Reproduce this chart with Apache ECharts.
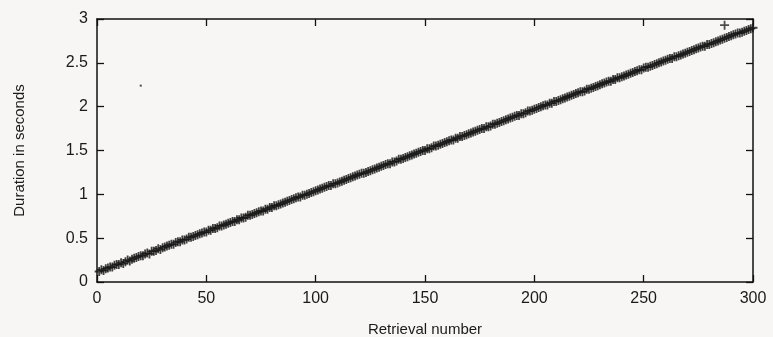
<!DOCTYPE html>
<html><head><meta charset="utf-8">
<script src="https://cdn.jsdelivr.net/npm/echarts@6/dist/echarts.min.js"></script>
<style>html,body{margin:0;padding:0;background:#f8f6f4}#c{width:773px;height:337px}</style>
</head><body><div id="c"></div>
<script>
// Retrieval numbers 1..300 and their durations (seconds)
const retrievalStart = 1;
const durations = [
0.12,0.14,0.13,0.15,0.16,0.17,0.17,0.19,0.20,0.20,
0.22,0.21,0.23,0.25,0.24,0.26,0.27,0.28,0.29,0.30,
0.30,0.32,0.33,0.32,0.35,0.35,0.36,0.38,0.37,0.39,
0.40,0.41,0.42,0.43,0.43,0.45,0.46,0.46,0.48,0.48,
0.49,0.51,0.51,0.52,0.53,0.54,0.55,0.56,0.57,0.57,
0.59,0.59,0.61,0.61,0.62,0.64,0.64,0.65,0.66,0.67,
0.68,0.69,0.69,0.71,0.71,0.73,0.73,0.74,0.76,0.76,
0.77,0.78,0.79,0.80,0.81,0.81,0.83,0.83,0.85,0.85,
0.87,0.87,0.88,0.89,0.90,0.91,0.92,0.93,0.94,0.95,
0.96,0.97,0.97,0.99,0.99,1.00,1.01,1.02,1.03,1.04,
1.05,1.06,1.07,1.08,1.09,1.10,1.10,1.12,1.12,1.13,
1.14,1.15,1.16,1.17,1.18,1.19,1.20,1.21,1.22,1.23,
1.24,1.24,1.25,1.26,1.27,1.28,1.29,1.30,1.31,1.32,
1.33,1.34,1.35,1.35,1.37,1.37,1.38,1.40,1.40,1.41,
1.42,1.43,1.44,1.45,1.46,1.47,1.48,1.49,1.50,1.50,
1.52,1.52,1.53,1.55,1.55,1.56,1.57,1.58,1.59,1.60,
1.61,1.62,1.62,1.64,1.64,1.66,1.66,1.67,1.68,1.69,
1.70,1.71,1.72,1.73,1.74,1.75,1.75,1.77,1.77,1.78,
1.80,1.80,1.81,1.82,1.83,1.84,1.85,1.86,1.87,1.88,
1.89,1.90,1.90,1.92,1.92,1.93,1.95,1.95,1.96,1.97,
1.98,1.99,2.00,2.01,2.02,2.02,2.04,2.04,2.06,2.06,
2.07,2.08,2.09,2.10,2.11,2.12,2.13,2.14,2.15,2.16,
2.17,2.17,2.18,2.20,2.20,2.21,2.22,2.23,2.24,2.25,
2.26,2.27,2.28,2.29,2.29,2.31,2.31,2.33,2.33,2.34,
2.35,2.36,2.37,2.38,2.39,2.40,2.41,2.42,2.42,2.44,
2.45,2.45,2.46,2.47,2.48,2.49,2.50,2.51,2.52,2.53,
2.54,2.55,2.55,2.57,2.57,2.58,2.59,2.60,2.61,2.62,
2.63,2.64,2.65,2.66,2.67,2.68,2.69,2.69,2.71,2.71,
2.72,2.73,2.74,2.75,2.76,2.77,2.78,2.79,2.80,2.81,
2.82,2.83,2.84,2.84,2.85,2.86,2.87,2.88,2.89,2.90
];
const outlierX = [287];
const outlierY = [2.93];
const strayX = [20];
const strayY = [2.24];
const xTicks = [0, 50, 100, 150, 200, 250, 300];
const yTicks = [0, 0.5, 1, 1.5, 2, 2.5, 3];

const mainData = durations.map((v, i) => [retrievalStart + i, v]);
const outData = outlierX.map((x, i) => [x, outlierY[i]]);
const strayData = strayX.map((x, i) => [x, strayY[i]]);

const plus = 'path://M4,0h2v4h4v2h-4v4h-2v-4h-4v-2h4z';
const font = 'Liberation Sans, Arial, sans-serif';
const axisLine = {show: true, onZero: false, lineStyle: {color: '#111', width: 1.5}};
const tick = {show: true, inside: true, length: 7, lineStyle: {color: '#111', width: 1.3}};

const chart = echarts.init(document.getElementById('c'), null, {renderer: 'canvas'});
chart.setOption({
  backgroundColor: '#f8f6f4',
  animation: false,
  grid: {left: 97, right: 20, top: 19, bottom: 55, outerBoundsMode: 'none', containLabel: false},
  xAxis: [{
    type: 'value', min: 0, max: 300, interval: 50, position: 'bottom',
    name: 'Retrieval number', nameLocation: 'middle', nameGap: 40,
    nameTextStyle: {fontFamily: font, fontSize: 15, color: '#1a1a1a'},
    axisLine: axisLine, axisTick: tick, splitLine: {show: false},
    axisLabel: {fontFamily: font, fontSize: 16, color: '#1a1a1a', margin: 9,
      formatter: v => xTicks.includes(v) ? String(v) : ''}
  }, {
    type: 'value', min: 0, max: 300, interval: 50, position: 'top',
    axisLine: axisLine, axisTick: tick, axisLabel: {show: false}, splitLine: {show: false}
  }],
  yAxis: [{
    type: 'value', min: 0, max: 3, interval: 0.5, position: 'left',
    name: 'Duration in seconds', nameLocation: 'middle', nameGap: 70,
    nameTextStyle: {fontFamily: font, fontSize: 15, color: '#1a1a1a'},
    axisLine: axisLine, axisTick: tick, splitLine: {show: false},
    axisLabel: {fontFamily: font, fontSize: 16, color: '#1a1a1a', margin: 9,
      formatter: v => yTicks.includes(v) ? String(v) : ''}
  }, {
    type: 'value', min: 0, max: 3, interval: 0.5, position: 'right',
    axisLine: axisLine, axisTick: tick, axisLabel: {show: false}, splitLine: {show: false}
  }],
  series: [{
    type: 'scatter', data: mainData, symbol: plus, symbolSize: 9,
    itemStyle: {color: '#151515'}
  }, {
    type: 'scatter', data: outData, symbol: plus, symbolSize: 9,
    itemStyle: {color: '#222'}
  }, {
    type: 'scatter', data: strayData, symbol: 'rect', symbolSize: 2,
    itemStyle: {color: '#222'}
  }]
});
</script>
</body></html>
